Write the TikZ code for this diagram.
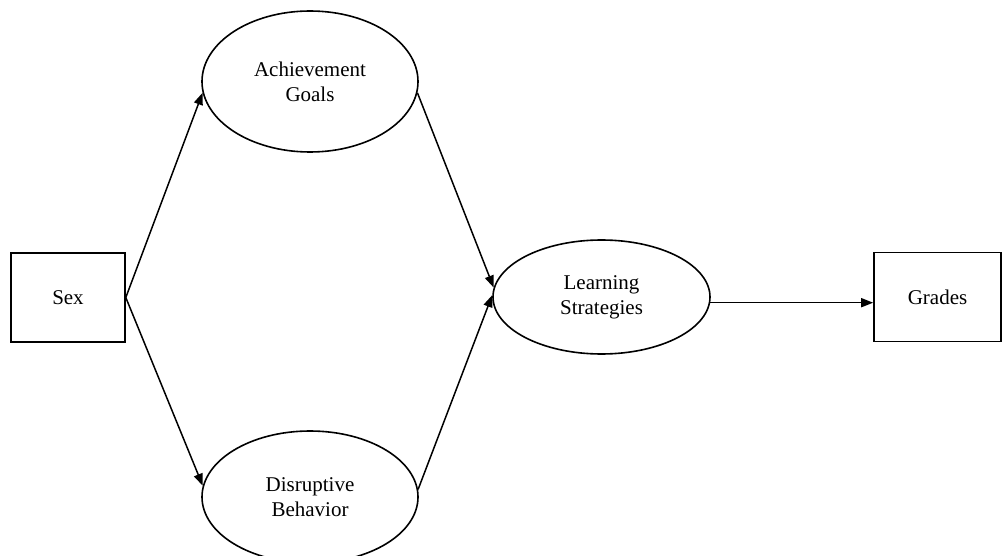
\documentclass[tikz,border=0pt]{standalone}
\usepackage{fontspec}
\setmainfont{Liberation Serif}
\usetikzlibrary{shapes.geometric,arrows.meta}
\begin{document}
\begin{tikzpicture}[x=1pt,y=-1pt,
  lbl/.style={align=center,font=\fontsize{21}{25}\selectfont,inner sep=0pt},
  oval/.style={lbl,draw,ellipse,line width=1.6pt,minimum width=216pt},
  box/.style={lbl,draw,rectangle,line width=1.6pt,minimum width=114pt,minimum height=89pt},
  arr/.style={line width=1.5pt,-{Triangle[length=12pt,width=9pt]}}]
\useasboundingbox (0,0) rectangle (1002,556);
\node[box] (sex) at (68,297.5) {Sex};
\node[oval,minimum height=141pt] (ach) at (310,81.5) {Achievement\\Goals};
\node[oval,minimum height=132pt] (dis) at (310,497) {Disruptive\\Behavior};
\node[oval,minimum height=114pt,minimum width=217pt] (lrn) at (601.5,297) {Learning\\Strategies};
\node[box,minimum width=127pt] (grd) at (937.5,297) {Grades};
\draw[arr] (sex.east) -- (ach.186);
\draw[arr] (sex.east) -- (dis.174);
\draw[arr] (ach.354) -- (lrn.175);
\draw[arr] (dis.4) -- (lrn.179);
\draw[arr] (lrn.357) -- (lrn.357 -| grd.west);
\end{tikzpicture}
\end{document}
